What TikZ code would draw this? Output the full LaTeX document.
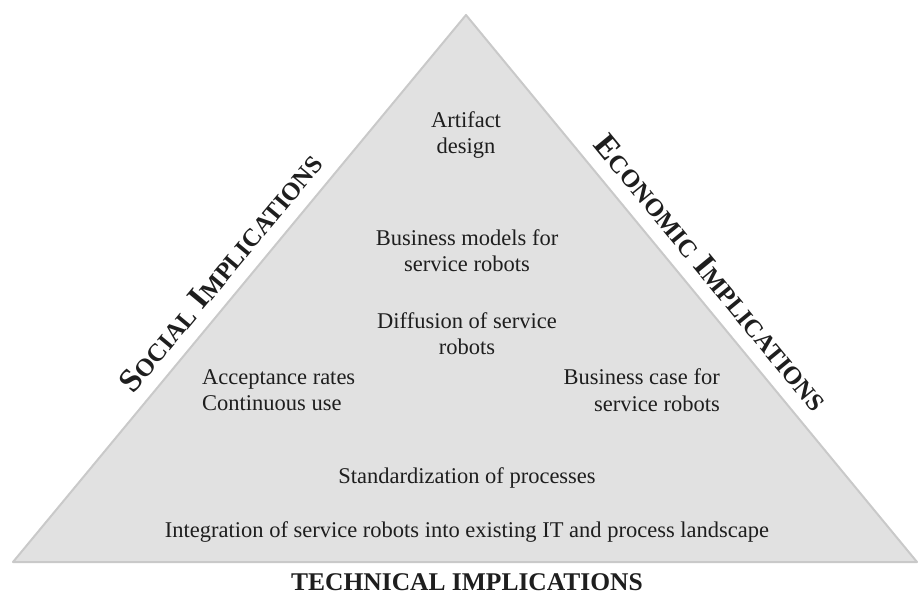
\documentclass[tikz,border=0pt]{standalone}
\usepackage{fontspec}
\setmainfont{Liberation Serif}
\definecolor{trifill}{HTML}{E1E1E1}
\definecolor{triline}{HTML}{C9C9C9}
\definecolor{ink}{HTML}{1E1E1E}
\newcommand{\mysc}[2]{{\fontsize{33}{40}\selectfont\bfseries #1}{\fontsize{25}{30}\selectfont\bfseries #2}}
\begin{document}
\begin{tikzpicture}[x=1pt,y=-1pt,
  body/.style={font=\fontsize{22.5}{26.5}\selectfont, inner sep=0pt, text=ink, align=center},
  side/.style={font=\fontsize{33}{40}\selectfont\bfseries, inner sep=0pt, anchor=base, text=ink},
  tri/.style={draw=triline, fill=trifill, line width=2pt, line join=round}
]
\useasboundingbox (0,0) rectangle (918,594);
\coordinate (L) at (13,562);
\coordinate (R) at (917,562);
\coordinate (T) at (466,15);
\draw[tri] (L) -- (T) -- (R) -- cycle;
\node[body] (art) at (466,135) {Artifact\\design};
\node[body] (bm) at (467,250.5) {Business models for\\service robots};
\node[body] (dif) at (467,333.5) {Diffusion of service\\robots};
\node[body, align=left, anchor=west] (acc) at (202,390) {Acceptance rates\\Continuous use};
\node[body, align=right, anchor=east] (bc) at (720,390) {Business case for\\service robots};
\node[body] (std) at (467,478) {Standardization of processes};
\node[body] (int) at (467,532) {Integration of service robots into existing IT and process landscape};
\node[font=\fontsize{25.5}{30}\selectfont\bfseries, anchor=base, inner sep=0pt, text=ink] (tech) at (467,590) {TECHNICAL IMPLICATIONS};
\node[side, rotate=50.3] (soc) at (229,279.5) {\mysc{S}{OCIAL} \mysc{I}{MPLICATIONS}};
\node[side, rotate=-50.6] (eco) at (703,279.5) {\mysc{E}{CONOMIC} \mysc{I}{MPLICATIONS}};
\end{tikzpicture}
\end{document}
